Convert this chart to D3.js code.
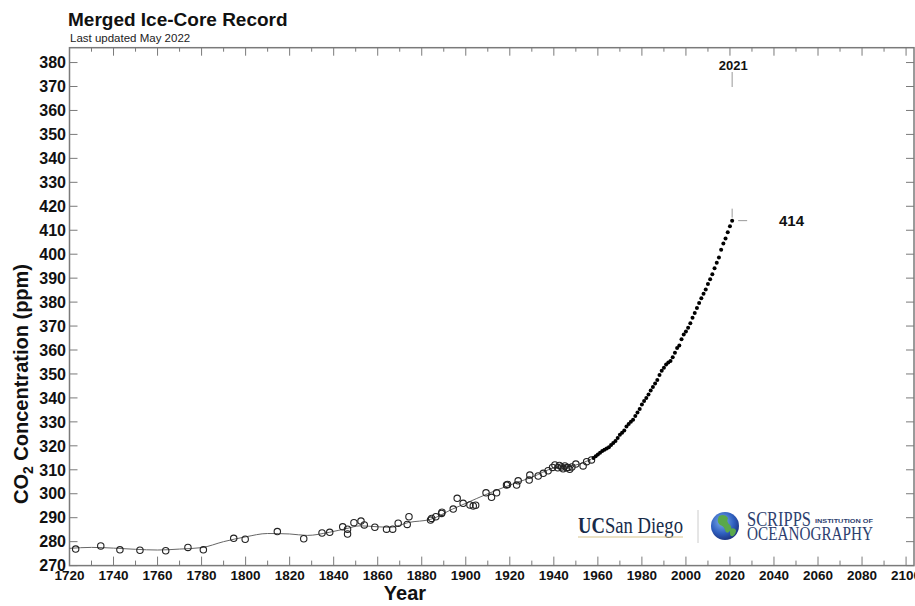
<!DOCTYPE html>
<html lang="en">
<head>
<meta charset="UTF-8">
<title>Merged Ice-Core Record</title>
<script src="https://d3js.org/d3.v7.min.js"></script>
<style>
    body { margin: 0; background: #fff; }
    svg { display: block; font-family: "Liberation Sans", Arial, sans-serif; }
</style>
</head>
<body>
<div id="chart"></div>
<script>
    // ice core samples (open circles)
    var iceYears = [
        1722.8, 1734.2, 1742.9, 1752.0, 1763.7, 1773.8, 1780.8, 1794.6, 1799.8, 1814.4,
        1826.4, 1834.7, 1838.2, 1844.1, 1846.3, 1846.3, 1849.2, 1852.4, 1853.9, 1858.7,
        1864.0, 1866.8, 1869.3, 1873.4, 1874.2, 1884.0, 1884.5, 1886.4, 1889.0, 1889.2,
        1894.3, 1896.1, 1898.8, 1901.9, 1903.4, 1904.5, 1909.2, 1911.7, 1914.0, 1918.5,
        1919.0, 1923.1, 1923.8, 1928.8, 1929.1, 1932.9, 1935.2, 1937.4, 1939.4, 1940.5,
        1941.8, 1942.5, 1943.5, 1944.2, 1945.0, 1945.8, 1946.5, 1947.2, 1948.2, 1950.0,
        1953.3, 1954.9, 1957.1
    ];
    var iceValues = [
        276.9, 278.2, 276.6, 276.4, 276.2, 277.6, 276.6, 281.4, 281.0, 284.2,
        281.2, 283.6, 283.9, 286.2, 285.2, 283.2, 287.9, 288.6, 287.0, 286.0,
        285.2, 285.2, 287.7, 287.2, 290.4, 289.0, 289.7, 290.4, 291.8, 292.3,
        293.6, 298.1, 296.0, 295.3, 294.9, 295.2, 300.4, 298.5, 300.4, 303.6,
        303.9, 303.6, 305.4, 305.7, 307.8, 307.4, 308.5, 309.6, 311.0, 312.0,
        310.8, 311.8, 311.2, 310.4, 311.6, 310.8, 311.0, 310.2, 311.2, 312.4,
        311.6, 313.4, 314.1
    ];

    // smoothing spline through the ice core
    var splineYears = [
        1720, 1730, 1740, 1750, 1760, 1770, 1780, 1790, 1800, 1810, 1820, 1828, 1838,
        1846, 1852, 1860, 1866, 1874, 1884, 1894, 1900, 1910, 1920, 1930, 1940, 1950, 1957
    ];
    var splineValues = [
        277.2, 277.6, 277.3, 276.8, 276.5, 276.9, 277.5, 280.0, 282.0, 283.4, 283.2, 282.6, 283.9,
        285.5, 286.6, 286.2, 286.0, 288.0, 289.3, 293.6, 296.0, 300.0, 303.6, 306.9, 310.8, 312.0, 314.4
    ];

    // direct measurements (filled dots)
    var airYears = d3.range(1958, 2022);
    var airValues = [
        314.9, 315.6, 316.4, 317.1, 317.8, 318.4, 318.9, 319.4, 320.3, 321.2,
        322.0, 323.3, 324.6, 325.5, 326.4, 328.1, 329.1, 330.0, 330.9, 332.4,
        333.9, 335.4, 337.2, 338.7, 340.0, 341.4, 343.1, 344.6, 346.0, 347.5,
        349.6, 351.3, 352.6, 353.9, 354.8, 355.4, 357.0, 358.9, 360.8, 361.9,
        364.5, 366.5, 367.7, 369.3, 371.2, 373.5, 375.5, 377.5, 379.6, 381.6,
        383.5, 385.3, 387.6, 389.5, 391.6, 394.1, 396.4, 398.6, 401.9, 404.5,
        406.6, 409.2, 411.7, 414.0
    ];

    var xTicks = d3.range(1720, 2101, 20);
    var xMinor = d3.range(1730, 2101, 20);
    var yTicks = d3.range(270, 481, 10);
    var yTickLabels = [
        "270", "280", "290", "300", "310", "320", "330", "340", "350", "360", "370",
        "380", "390", "400", "410", "420", "330", "340", "350", "360", "370", "380"
    ];
    var lastYear = 2021, lastValue = 414;

    const width = 915, height = 606;
    const plot = { left: 69.5, right: 914, top: 47.7, bottom: 565.6 };

    var svg = d3.select("#chart").append("svg")
        .attr("width", width)
        .attr("height", height);

    svg.append("rect").attr("width", width).attr("height", height).attr("fill", "#fff");

    var x = d3.scaleLinear().domain([1720, 2103.6]).range([plot.left, plot.right]);
    var y = d3.scaleLinear().domain([270, 486.2]).range([plot.bottom, plot.top]);

    var frameColor = "#7a7a7a";
    var serif = "'Liberation Serif', 'DejaVu Serif', serif";

    // logos (drawn first, under the data)
    var logo = svg.append("g");
    var ucsd = logo.append("text")
        .attr("x", 578).attr("y", 533)
        .attr("font-family", serif)
        .attr("font-size", 23)
        .attr("fill", "#182b49")
        .attr("textLength", 105).attr("lengthAdjust", "spacingAndGlyphs");
    ucsd.append("tspan").attr("font-weight", "bold").text("UC");
    ucsd.append("tspan").text("San Diego");
    logo.append("line")
        .attr("x1", 578).attr("x2", 683).attr("y1", 537).attr("y2", 537)
        .attr("stroke", "#d8c48a").attr("stroke-width", 1.2);
    logo.append("line")
        .attr("x1", 698).attr("x2", 698).attr("y1", 510).attr("y2", 543)
        .attr("stroke", "#ccc").attr("stroke-width", 1);

    var grad = svg.append("defs").append("radialGradient")
        .attr("id", "globe").attr("cx", "40%").attr("cy", "35%").attr("r", "70%");
    grad.append("stop").attr("offset", "0%").attr("stop-color", "#7fb0ee");
    grad.append("stop").attr("offset", "60%").attr("stop-color", "#2f5fbf");
    grad.append("stop").attr("offset", "100%").attr("stop-color", "#1b2f7a");
    logo.append("circle").attr("cx", 725).attr("cy", 526).attr("r", 14).attr("fill", "url(#globe)");
    logo.append("path")
        .attr("d", "M719,516 q6,-3 9,2 q-2,4 2,7 q3,3 -1,7 q-3,2 -4,-2 q-1,-4 -5,-5 q-4,-3 -1,-9z")
        .attr("fill", "#5aa84a");
    logo.append("path")
        .attr("d", "M730,529 q4,-2 6,1 q0,4 -3,6 q-3,1 -3,-3z")
        .attr("fill", "#5aa84a");

    logo.append("text")
        .attr("x", 747).attr("y", 526)
        .attr("font-family", serif)
        .attr("font-size", 21)
        .attr("fill", "#2e3f70")
        .attr("textLength", 64).attr("lengthAdjust", "spacingAndGlyphs")
        .text("SCRIPPS");
    logo.append("text")
        .attr("x", 815).attr("y", 523)
        .attr("font-size", 5)
        .attr("font-weight", "bold")
        .attr("fill", "#2e3f70")
        .attr("textLength", 58).attr("lengthAdjust", "spacingAndGlyphs")
        .text("INSTITUTION OF");
    logo.append("text")
        .attr("x", 747).attr("y", 540)
        .attr("font-family", serif)
        .attr("font-size", 19)
        .attr("fill", "#2e3f70")
        .attr("textLength", 126).attr("lengthAdjust", "spacingAndGlyphs")
        .text("OCEANOGRAPHY");

    // frame
    svg.append("rect")
        .attr("x", plot.left).attr("y", plot.top)
        .attr("width", plot.right - plot.left).attr("height", plot.bottom - plot.top)
        .attr("fill", "none").attr("stroke", frameColor).attr("stroke-width", 1.5);

    var ticks = svg.append("g").attr("stroke", frameColor).attr("stroke-width", 1);

    // x ticks, bottom and top, pointing inward
    ticks.selectAll(".xb").data(xTicks).join("line")
        .attr("x1", d => x(d)).attr("x2", d => x(d))
        .attr("y1", plot.bottom).attr("y2", plot.bottom - 9);
    ticks.selectAll(".xbm").data(xMinor).join("line")
        .attr("x1", d => x(d)).attr("x2", d => x(d))
        .attr("y1", plot.bottom).attr("y2", plot.bottom - 5);
    ticks.selectAll(".xt").data(xTicks).join("line")
        .attr("x1", d => x(d)).attr("x2", d => x(d))
        .attr("y1", plot.top).attr("y2", plot.top + 8);
    ticks.selectAll(".xtm").data(xMinor).join("line")
        .attr("x1", d => x(d)).attr("x2", d => x(d))
        .attr("y1", plot.top).attr("y2", plot.top + 4);

    // y ticks, left and right
    ticks.selectAll(".yl").data(yTicks).join("line")
        .attr("x1", plot.left).attr("x2", plot.left + 8)
        .attr("y1", d => y(d)).attr("y2", d => y(d));
    ticks.selectAll(".yr").data(yTicks).join("line")
        .attr("x1", plot.right).attr("x2", plot.right - 8)
        .attr("y1", d => y(d)).attr("y2", d => y(d));

    // tick labels
    svg.append("g").selectAll("text").data(yTicks).join("text")
        .attr("x", 66)
        .attr("y", d => y(d))
        .attr("dy", "0.36em")
        .attr("text-anchor", "end")
        .attr("font-size", 16)
        .attr("font-weight", "bold")
        .attr("fill", "#111")
        .text((d, i) => yTickLabels[i]);

    svg.append("g").selectAll("text").data(xTicks).join("text")
        .attr("x", d => x(d))
        .attr("y", 580)
        .attr("text-anchor", "middle")
        .attr("font-size", 13.5)
        .attr("font-weight", "bold")
        .attr("fill", "#111")
        .text(d => d);

    // spline
    var splineLine = d3.line()
        .x(d => x(d[0]))
        .y(d => y(d[1]))
        .curve(d3.curveMonotoneX);
    svg.append("path")
        .datum(d3.zip(splineYears, splineValues))
        .attr("d", splineLine)
        .attr("fill", "none")
        .attr("stroke", "#666")
        .attr("stroke-width", 1);

    // ice core circles
    svg.append("g").selectAll("circle")
        .data(d3.zip(iceYears, iceValues))
        .join("circle")
        .attr("cx", d => x(d[0]))
        .attr("cy", d => y(d[1]))
        .attr("r", 3.2)
        .attr("fill", "none")
        .attr("stroke", "#222")
        .attr("stroke-width", 1.1);

    // measured dots
    svg.append("g").selectAll("circle")
        .data(d3.zip(airYears, airValues))
        .join("circle")
        .attr("cx", d => x(d[0]))
        .attr("cy", d => y(d[1]))
        .attr("r", 2)
        .attr("fill", "#000");

    // annotations for latest year / value
    var ann = svg.append("g").attr("stroke", "#999").attr("stroke-width", 1);
    ann.append("line")
        .attr("x1", x(lastYear)).attr("x2", x(lastYear))
        .attr("y1", 72).attr("y2", 87);
    ann.append("line")
        .attr("x1", x(lastYear)).attr("x2", x(lastYear))
        .attr("y1", y(lastValue) - 12).attr("y2", y(lastValue) - 3);
    ann.append("line")
        .attr("x1", x(lastYear) + 6).attr("x2", x(lastYear) + 15)
        .attr("y1", y(lastValue)).attr("y2", y(lastValue));

    svg.append("text")
        .attr("x", x(lastYear) + 1)
        .attr("y", 69.5)
        .attr("text-anchor", "middle")
        .attr("font-size", 13)
        .attr("font-weight", "bold")
        .attr("fill", "#111")
        .text(lastYear);
    svg.append("text")
        .attr("x", 779)
        .attr("y", y(lastValue) + 5.5)
        .attr("font-size", 15)
        .attr("font-weight", "bold")
        .attr("fill", "#111")
        .text(lastValue);

    // titles
    svg.append("text")
        .attr("x", 68).attr("y", 26)
        .attr("font-size", 19)
        .attr("font-weight", "bold")
        .attr("fill", "#111")
        .text("Merged Ice-Core Record");
    svg.append("text")
        .attr("x", 70).attr("y", 41.5)
        .attr("font-size", 11.5)
        .attr("fill", "#222")
        .text("Last updated May 2022");

    svg.append("text")
        .attr("x", 405).attr("y", 600)
        .attr("text-anchor", "middle")
        .attr("font-size", 20)
        .attr("font-weight", "bold")
        .attr("fill", "#111")
        .text("Year");

    var yLabel = svg.append("text")
        .attr("transform", "translate(28,384) rotate(-90)")
        .attr("text-anchor", "middle")
        .attr("font-size", 20)
        .attr("font-weight", "bold")
        .attr("fill", "#111");
    yLabel.append("tspan").text("CO");
    yLabel.append("tspan").attr("font-size", 14).attr("dy", 5).text("2");
    yLabel.append("tspan").attr("dy", -5).text(" Concentration (ppm)");
</script>
</body>
</html>
